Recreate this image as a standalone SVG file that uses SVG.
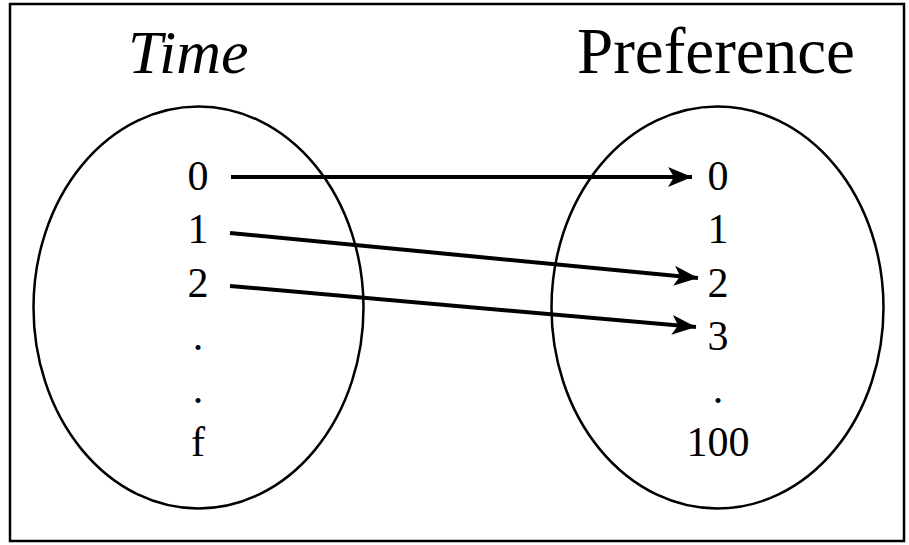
<svg xmlns="http://www.w3.org/2000/svg" width="909" height="545" viewBox="0 0 909 545">
<style>
text{font-family:"Liberation Serif","Times New Roman",serif;fill:#000}
.num{font-size:42px;text-anchor:middle}
.ell{fill:none;stroke:#000;stroke-width:2.5}
.conn{stroke:#000;stroke-width:4;fill:none;marker-end:url(#ah)}
</style>
<defs>
<marker id="ah" markerUnits="userSpaceOnUse" markerWidth="26" markerHeight="24" viewBox="0 0 26 24" refX="24" refY="12" orient="auto">
<path d="M0,2 L24,12 L0,22 L6,12 z" fill="#000"/>
</marker>
</defs>
<rect x="10" y="4" width="894" height="537" fill="#fff" stroke="#000" stroke-width="2.5"/>
<g id="time">
<text x="128" y="73" font-size="62" font-style="italic">Time</text>
<ellipse class="ell" cx="198.5" cy="307.5" rx="165" ry="201"/>
<text class="num" x="198" y="190">0</text>
<text class="num" x="198" y="243">1</text>
<text class="num" x="198" y="297">2</text>
<text class="num" x="198" y="350">.</text>
<text class="num" x="198" y="403">.</text>
<text class="num" x="198" y="456">f</text>
</g>
<g id="preference">
<text x="577" y="73" font-size="65">Preference</text>
<ellipse class="ell" cx="717.5" cy="307.5" rx="166" ry="201"/>
<text class="num" x="718" y="190">0</text>
<text class="num" x="718" y="243">1</text>
<text class="num" x="718" y="297">2</text>
<text class="num" x="718" y="350">3</text>
<text class="num" x="718" y="403">.</text>
<text class="num" x="718" y="456">100</text>
</g>
<g id="connectors">
<line class="conn" x1="231" y1="177" x2="692" y2="177"/>
<line class="conn" x1="230" y1="233" x2="698" y2="278"/>
<line class="conn" x1="230" y1="286" x2="696" y2="327"/>
</g>
</svg>
